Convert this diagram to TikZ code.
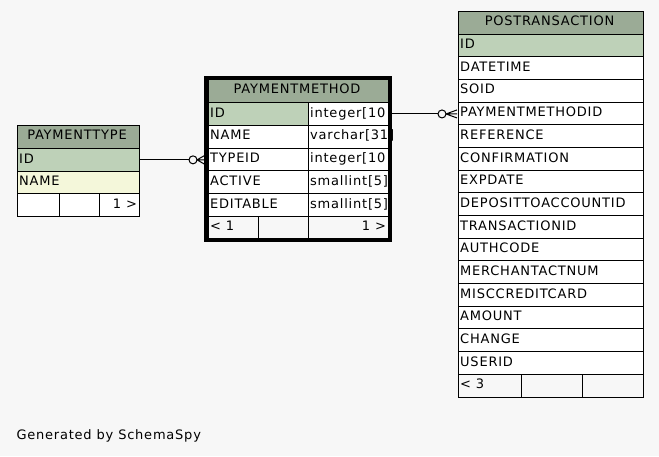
\documentclass[tikz,border=0pt]{standalone}
\usepackage{fontspec}
\setmainfont{DejaVu Sans}[LetterSpace=6]
\usetikzlibrary{calc}
\definecolor{bgc}{HTML}{F7F7F7}
\definecolor{hdr}{HTML}{9BAB96}
\definecolor{pkc}{HTML}{BED1B8}
\definecolor{idx}{HTML}{F4F7DA}
\definecolor{foot}{HTML}{F7F7F7}
\tikzset{
  cellbox/.style={draw=black, line width=1pt, rectangle, inner sep=0pt, outer sep=0pt},
  celltext/.style={inner sep=0pt, outer sep=0pt, font=\fontsize{13}{15}\selectfont},
  frame/.style={draw=black, line width=3.5pt, rectangle, inner sep=0pt, outer sep=0pt},
  conn/.style={draw=black, line width=1pt},
  crow/.style={draw=black, line width=1pt},
  opendot/.style={draw=black, fill=bgc, line width=1pt},
}
% name, x, ytop, w, h, fill
\newcommand{\ebox}[6]{\node[cellbox, fill=#6, minimum width=#4pt, minimum height=#5pt, anchor=north west] (#1) at (#2,#3) {};}
\newcommand{\ltext}[2]{\node[celltext, anchor=base west] at ([xshift=2.2pt,yshift=-14.6pt]#1.north west) {#2};}
\newcommand{\ctext}[2]{\node[celltext, anchor=base] at ([xshift=-1pt,yshift=-14.6pt]#1.north) {#2};}
\newcommand{\rtext}[2]{\node[celltext, anchor=base east] at ([xshift=-2pt,yshift=-14.6pt]#1.north east) {#2};}
\begin{document}
\begin{tikzpicture}[x=1pt,y=-1pt]
\useasboundingbox[fill=bgc] (0,0) rectangle (659,456);

% ---------- PAYMENTTYPE ----------
\ebox{pt-h}{17}{125}{122}{23.5}{hdr}\ctext{pt-h}{PAYMENTTYPE}
\ebox{pt-id}{17}{148.5}{122}{22.7}{pkc}\ltext{pt-id}{ID}
\ebox{pt-name}{17}{171.2}{122}{22.7}{idx}\ltext{pt-name}{NAME}
\ebox{pt-f1}{17}{193.9}{42}{22.7}{white}
\ebox{pt-f2}{59}{193.9}{40}{22.7}{white}
\ebox{pt-f3}{99}{193.9}{40}{22.7}{white}\rtext{pt-f3}{1 >}

% ---------- PAYMENTMETHOD ----------
\ebox{pm-h}{208}{79}{180}{23.6}{hdr}\ctext{pm-h}{PAYMENTMETHOD}
\ebox{pm-id}{208}{102.6}{100}{22.7}{pkc}\ltext{pm-id}{ID}
\ebox{pm-idt}{308}{102.6}{80}{22.7}{white}\ltext{pm-idt}{integer[10}
\ebox{pm-name}{208}{125.3}{100}{22.7}{white}\ltext{pm-name}{NAME}
\ebox{pm-namet}{308}{125.3}{80}{22.7}{white}\ltext{pm-namet}{varchar[31]}
\ebox{pm-typeid}{208}{148.0}{100}{22.7}{white}\ltext{pm-typeid}{TYPEID}
\ebox{pm-typeidt}{308}{148.0}{80}{22.7}{white}\ltext{pm-typeidt}{integer[10}
\ebox{pm-active}{208}{170.7}{100}{22.7}{white}\ltext{pm-active}{ACTIVE}
\ebox{pm-activet}{308}{170.7}{80}{22.7}{white}\ltext{pm-activet}{smallint[5]}
\ebox{pm-edit}{208}{193.4}{100}{22.7}{white}\ltext{pm-edit}{EDITABLE}
\ebox{pm-editt}{308}{193.4}{80}{22.7}{white}\ltext{pm-editt}{smallint[5]}
\ebox{pm-f1}{208}{216.1}{50}{22.7}{foot}\ltext{pm-f1}{< 1}
\ebox{pm-f2}{258}{216.1}{50}{22.7}{foot}
\ebox{pm-f3}{308}{216.1}{80}{22.7}{foot}\rtext{pm-f3}{1 >}
\node[frame, minimum width=184pt, minimum height=163pt, anchor=north west] (pm) at (206,77.5) {};

% ---------- POSTRANSACTION ----------
\ebox{po-h}{458}{11}{185}{23}{hdr}\ctext{po-h}{POSTRANSACTION}
\ebox{po-id}{458}{34}{185}{22.69}{pkc}\ltext{po-id}{ID}
\ebox{po-datetime}{458}{56.69}{185}{22.69}{white}\ltext{po-datetime}{DATETIME}
\ebox{po-soid}{458}{79.38}{185}{22.69}{white}\ltext{po-soid}{SOID}
\ebox{po-pmid}{458}{102.07}{185}{22.69}{white}\ltext{po-pmid}{PAYMENTMETHODID}
\ebox{po-ref}{458}{124.76}{185}{22.69}{white}\ltext{po-ref}{REFERENCE}
\ebox{po-conf}{458}{147.45}{185}{22.69}{white}\ltext{po-conf}{CONFIRMATION}
\ebox{po-exp}{458}{170.14}{185}{22.69}{white}\ltext{po-exp}{EXPDATE}
\ebox{po-dep}{458}{192.83}{185}{22.69}{white}\ltext{po-dep}{DEPOSITTOACCOUNTID}
\ebox{po-trans}{458}{215.52}{185}{22.69}{white}\ltext{po-trans}{TRANSACTIONID}
\ebox{po-auth}{458}{238.21}{185}{22.69}{white}\ltext{po-auth}{AUTHCODE}
\ebox{po-merch}{458}{260.90}{185}{22.69}{white}\ltext{po-merch}{MERCHANTACTNUM}
\ebox{po-misc}{458}{283.59}{185}{22.69}{white}\ltext{po-misc}{MISCCREDITCARD}
\ebox{po-amt}{458}{306.28}{185}{22.69}{white}\ltext{po-amt}{AMOUNT}
\ebox{po-chg}{458}{328.97}{185}{22.69}{white}\ltext{po-chg}{CHANGE}
\ebox{po-user}{458}{351.66}{185}{22.69}{white}\ltext{po-user}{USERID}
\ebox{po-f1}{458}{374.35}{63}{22.69}{foot}\ltext{po-f1}{< 3}
\ebox{po-f2}{521}{374.35}{61}{22.69}{foot}
\ebox{po-f3}{582}{374.35}{61}{22.69}{foot}

% ---------- connectors ----------
\coordinate (e1) at (pm.west |- pt-id.east);
\draw[conn] (pt-id.east) -- ($(e1)+(-17,0)$);
\draw[opendot] ($(e1)+(-13,0)$) circle[radius=4];
\draw[crow] ($(e1)+(-9,0)$) -- ($(e1)+(-2,-4)$)
            ($(e1)+(-9,0)$) -- ($(e1)+(-2,0)$)
            ($(e1)+(-9,0)$) -- ($(e1)+(-2,4)$);

\coordinate (e2) at (pm.east |- pm-id.east);
\coordinate (e2t) at (po-pmid.west |- e2);
\draw[conn] (e2) -- ($(e2t)+(-20,0)$);
\draw[opendot] ($(e2t)+(-16,0)$) circle[radius=4];
\draw[crow] ($(e2t)+(-12,0)$) -- ($(e2t)+(-1,-4)$)
            ($(e2t)+(-12,0)$) -- ($(e2t)+(-1,0)$)
            ($(e2t)+(-12,0)$) -- ($(e2t)+(-1,4)$);

\node[celltext, anchor=base west] (gen) at (16.5,439) {Generated by SchemaSpy};
\end{tikzpicture}
\end{document}
